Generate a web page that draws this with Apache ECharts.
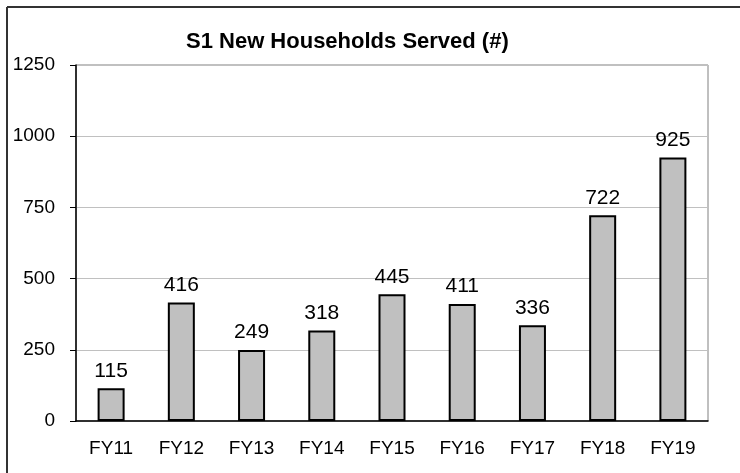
<!DOCTYPE html>
<html>
<head>
<meta charset="utf-8">
<script src="https://cdn.jsdelivr.net/npm/echarts@6/dist/echarts.min.js"></script>
<style>
  html, body { margin: 0; padding: 0; background: #fff; }
  #chart { width: 740px; height: 473px; }
</style>
</head>
<body>
<div id="chart"></div>
<script>
// 데이터
const years = ['FY11', 'FY12', 'FY13', 'FY14', 'FY15', 'FY16', 'FY17', 'FY18', 'FY19'];
const households = [115, 416, 249, 318, 445, 411, 336, 722, 925];
const yTicks = [0, 250, 500, 750, 1000, 1250];

const chart = echarts.init(document.getElementById('chart'));
const font = 'Liberation Sans, Arial, sans-serif';

const options = {
    animation: false,
    title: {
        text: 'S1 New Households Served (#)',
        left: 181,
        top: 26,
        textStyle: { fontFamily: font, fontSize: 22, fontWeight: 'bold', color: '#000' },
    },
    // 바깥 테두리 (위, 왼쪽)
    graphic: [
        { type: 'line', shape: { x1: 7, y1: 7, x2: 740, y2: 7 }, style: { stroke: '#333', lineWidth: 2 } },
        { type: 'line', shape: { x1: 7, y1: 7, x2: 7, y2: 473 }, style: { stroke: '#333', lineWidth: 2 } },
    ],
    grid: {
        left: 76,
        right: 32,
        top: 65,
        bottom: 52,
        show: true,
        borderColor: '#808080',
        borderWidth: 1,
    },
    xAxis: {
        type: 'category',
        data: years,
        axisLine: { lineStyle: { color: '#000', width: 1.5 } },
        axisTick: { alignWithLabel: false, length: 6, lineStyle: { color: '#000' } },
        axisLabel: { interval: 0, margin: 18, fontFamily: font, fontSize: 19, color: '#000' },
    },
    yAxis: {
        type: 'value',
        min: yTicks[0],
        max: yTicks[yTicks.length - 1],
        interval: 250,
        axisLine: { show: true, lineStyle: { color: '#000', width: 1.5 } },
        axisTick: { show: true, length: 6, lineStyle: { color: '#000' } },
        axisLabel: {
            margin: 21,
            fontFamily: font,
            fontSize: 19,
            color: '#000',
            formatter: (v) => String(v),
        },
        splitLine: { lineStyle: { color: '#c0c0c0', width: 1 } },
    },
    series: [
        {
            type: 'bar',
            data: households,
            barWidth: 27,
            itemStyle: { color: '#c0c0c0', borderColor: '#000', borderWidth: 2 },
            label: {
                show: true,
                position: 'top',
                distance: 7,
                fontFamily: font,
                fontSize: 21,
                color: '#000',
            },
        },
    ],
};

chart.setOption(options);
</script>
</body>
</html>
